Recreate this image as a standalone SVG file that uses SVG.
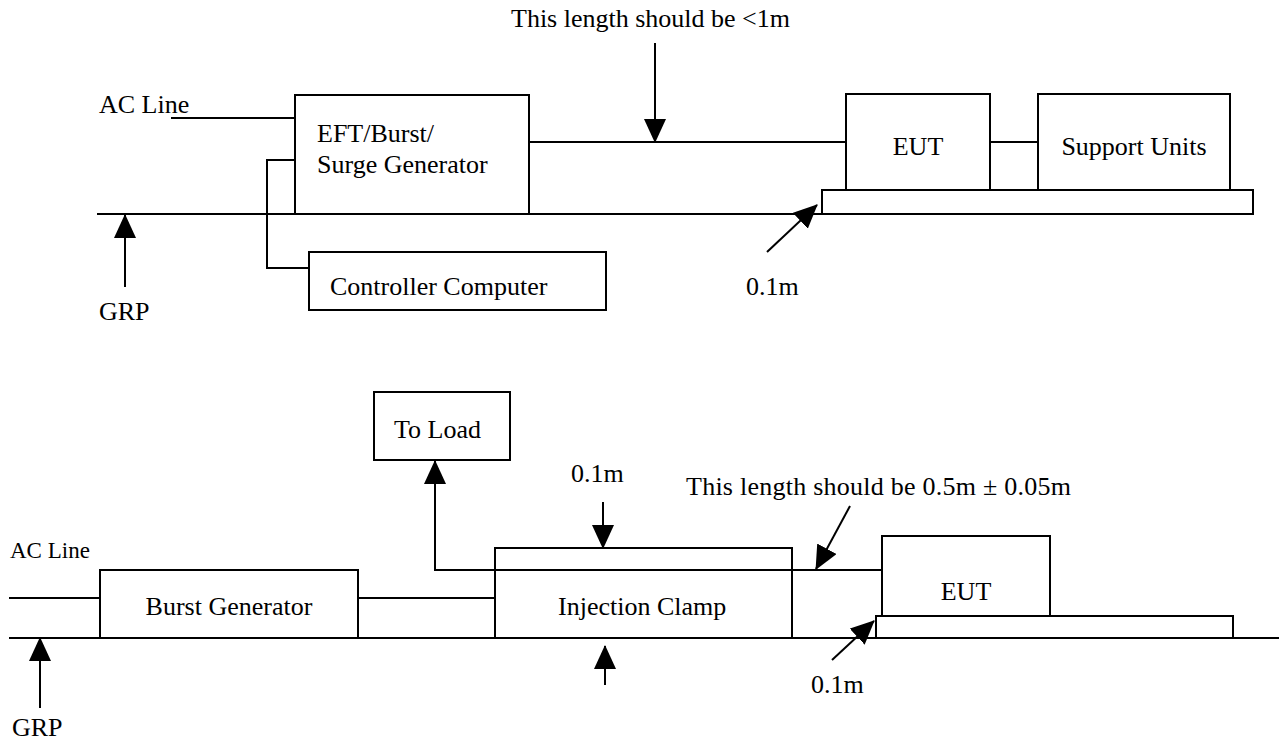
<svg xmlns="http://www.w3.org/2000/svg" width="1279" height="742" viewBox="0 0 1279 742">
<style>
.box{fill:#fff;stroke:#000;stroke-width:2}
.w{fill:none;stroke:#000;stroke-width:2}
.a{fill:none;stroke:#000;stroke-width:2;marker-end:url(#ah)}
text{font-family:"Liberation Serif","Times New Roman",serif;font-size:26px;fill:#000}
.m{text-anchor:middle}
</style>
<defs>
<marker id="ah" markerUnits="userSpaceOnUse" markerWidth="24" markerHeight="22" viewBox="0 0 24 22" refX="23" refY="11" orient="auto">
<path d="M0,0 L24,11 L0,22 Z" fill="#000"/>
</marker>
</defs>
<rect width="1279" height="742" fill="#fff"/>
<g id="connectors">
<path class="w" d="M171,118 H295"/>
<path class="w" d="M529,142 H846"/>
<path class="w" d="M990,142 H1038"/>
<path class="w" d="M295,160 H267 V268 H309"/>
<path class="w" d="M97,214 H822"/>
<path class="a" d="M655,43 V142"/>
<path class="a" d="M125,287 V215"/>
<path class="a" d="M767,252 L817,205"/>
<path class="w" d="M9,598 H100"/>
<path class="w" d="M358,598 H495"/>
<path class="w" d="M9,638 H1279"/>
<path class="a" d="M882,570 H435 V461"/>
<path class="a" d="M603,502 V548"/>
<path class="a" d="M605,685 V646"/>
<path class="a" d="M40,708 V638"/>
<path class="a" d="M850,506 L816,569"/>
<path class="a" d="M832,660 L874,621"/>
</g>
<g id="title-top"><text x="511" y="27" textLength="279">This length should be &lt;1m</text></g>
<g id="ac-line-top"><text x="99" y="113">AC Line</text></g>
<g id="eft-generator">
<rect class="box" x="295" y="95" width="234" height="119"/>
<text x="317" y="142">EFT/Burst/</text>
<text x="317" y="173">Surge Generator</text>
</g>
<g id="eut-top">
<rect class="box" x="846" y="94" width="144" height="96"/>
<text class="m" x="918" y="155">EUT</text>
</g>
<g id="support-units">
<rect class="box" x="1038" y="94" width="192" height="96"/>
<text class="m" x="1134" y="155">Support Units</text>
</g>
<g id="platform-top"><rect class="box" x="822" y="190" width="431" height="24"/></g>
<g id="controller">
<rect class="box" x="309" y="252" width="297" height="58"/>
<text x="330" y="295">Controller Computer</text>
</g>
<g id="grp-top"><text x="99" y="320">GRP</text></g>
<g id="dist-top"><text x="746" y="295">0.1m</text></g>
<g id="to-load">
<rect class="box" x="374" y="392" width="136" height="68"/>
<text x="394" y="438">To Load</text>
</g>
<g id="clamp-dist"><text x="571" y="482">0.1m</text></g>
<g id="title-bottom"><text x="686" y="495" textLength="385">This length should be 0.5m ± 0.05m</text></g>
<g id="ac-line-bottom"><text x="10" y="558" style="font-size:23px">AC Line</text></g>
<g id="burst-generator">
<rect class="box" x="100" y="570" width="258" height="68"/>
<text class="m" x="229" y="615">Burst Generator</text>
</g>
<g id="injection-clamp">
<rect class="box" x="495" y="548" width="297" height="90"/>
<path class="w" d="M495,570 H792"/>
<text x="558" y="615">Injection Clamp</text>
</g>
<g id="eut-bottom">
<rect class="box" x="882" y="536" width="168" height="80"/>
<text class="m" x="966" y="600">EUT</text>
</g>
<g id="platform-bottom"><rect class="box" x="876" y="616" width="357" height="22"/></g>
<g id="dist-bottom"><text x="811" y="693">0.1m</text></g>
<g id="grp-bottom"><text x="12" y="736">GRP</text></g>
</svg>
